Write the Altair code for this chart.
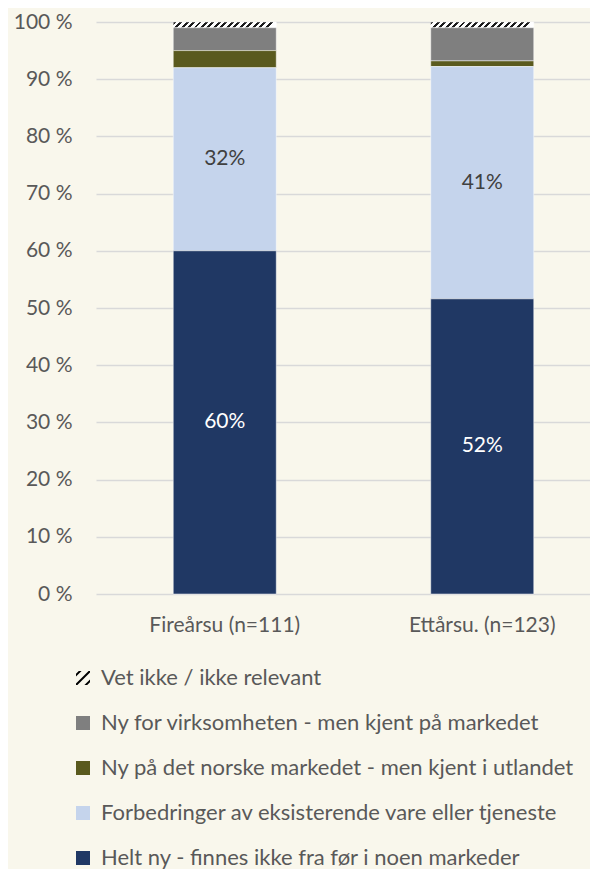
import altair as alt
import pandas as pd

# ---- data ----
categories = [
    "Vet ikke / ikke relevant",
    "Ny for virksomheten - men kjent på markedet",
    "Ny på det norske markedet - men kjent i utlandet",
    "Forbedringer av eksisterende vare eller tjeneste",
    "Helt ny - finnes ikke fra før i noen markeder",
]
colors = ["#000000", "#7F7F7F", "#5A5A1E", "#C5D4EC", "#203864"]
stack_order = [4, 3, 2, 1, 0]          # bottom (0) to top (4)
groups = ["Fireårsu (n=111)", "Ettårsu. (n=123)"]
fireaarsu = [1.0, 4.0, 3.0, 32.0, 60.0]
ettaarsu = [1.0, 5.8, 1.0, 40.6, 51.6]
labelled = [False, False, False, True, True]
y_ticks = list(range(0, 101, 10))

rows = []
for g, vals in zip(groups, [fireaarsu, ettaarsu]):
    for c, v, o, lab in zip(categories, vals, stack_order, labelled):
        rows.append({"group": g, "cat": c, "value": v, "order": o, "lab": lab})
df = pd.DataFrame(rows)

HATCH = categories[0]
NAVY = categories[4]
FONT = "Lato"
GREY_TXT = "#595959"


def stripe_gradient(n, frac, x2, y2):
    stops = []
    for i in range(n):
        a = i / n
        b = (i + frac) / n
        e = (i + 1) / n
        stops += [
            {"offset": a, "color": "#1a1a1a"},
            {"offset": b, "color": "#1a1a1a"},
            {"offset": b, "color": "#ffffff"},
            {"offset": e, "color": "#ffffff"},
        ]
    return {"gradient": "linear", "x1": 0, "y1": 0, "x2": x2, "y2": y2, "stops": stops}


hatch_fill = stripe_gradient(16, 0.45, 1, 0.0555)

square_path = "M-1,-1H1V1H-1Z"
hatch_path = ("M-1,-0.6L-0.6,-1L-0.2,-1L-1,-0.2Z "
              "M-1,0.8L0.8,-1L1,-1L1,-0.8L-0.8,1L-1,1Z "
              "M1,0.2L0.2,1L0.6,1L1,0.6Z")
shapes = [hatch_path] + [square_path] * 4

legend = alt.Legend(
    title=None, orient="none", legendX=-24, legendY=645, direction="vertical",
    symbolSize=196, symbolStrokeWidth=0, symbolOpacity=1,
    labelFont=FONT, labelFontSize=22, labelColor=GREY_TXT, labelOffset=7,
    labelLimit=700, rowPadding=23, padding=0,
)

x_enc = alt.X(
    "group:N", sort=groups,
    scale=alt.Scale(range=[0, 515], paddingInner=0.6, paddingOuter=0.3),
    axis=alt.Axis(title=None, labelAngle=0, domain=False, ticks=False,
                  labelPadding=20, labelFont=FONT, labelFontSize=21,
                  labelColor=GREY_TXT),
)
y_axis = alt.Axis(title=None, values=y_ticks, labelExpr="datum.value + ' %'",
                  domain=False, ticks=False, labelPadding=24, labelFont=FONT,
                  labelFontSize=21, labelColor=GREY_TXT, gridColor="#D9D9D9",
                  gridWidth=1.6)
y_scale = alt.Scale(domain=[0, 100], nice=False)

color_scale = alt.Scale(domain=categories, range=colors)

base = alt.Chart(df).transform_stack(
    stack="value", groupby=["group"],
    sort=[alt.SortField("order", order="ascending")], as_=["v0", "v1"]
).transform_calculate(
    mid="(datum.v0 + datum.v1) / 2",
    label="format(datum.value, '.0f') + '%'",
)

points = base.mark_point(filled=True, opacity=0).encode(
    x=x_enc,
    y=alt.Y("mid:Q", scale=y_scale, axis=y_axis),
    color=alt.Color("cat:N", scale=color_scale, legend=legend),
    shape=alt.Shape("cat:N", scale=alt.Scale(domain=categories, range=shapes), legend=legend),
)

bars = base.mark_bar(stroke="#FFFFFF", strokeWidth=0.8, strokeOpacity=0.6).encode(
    x=x_enc,
    y=alt.Y("v0:Q", scale=y_scale, axis=y_axis),
    y2="v1:Q",
    color=alt.condition(alt.datum.cat == HATCH, alt.value(hatch_fill),
                        alt.Color("cat:N", scale=color_scale, legend=legend)),
)

text = base.transform_filter(alt.datum.lab).mark_text(
    font=FONT, fontSize=21, baseline="middle", align="center"
).encode(
    x=x_enc,
    y=alt.Y("mid:Q", scale=y_scale, axis=y_axis),
    text=alt.Text("label:N"),
    color=alt.condition(alt.datum.cat == NAVY, alt.value("#FFFFFF"), alt.value("#404040")),
)

chart = alt.layer(points, bars, text).properties(
    width=494, height=572,
    autosize=alt.AutoSizeParams(type="none"),
    padding={"left": 88, "top": 14, "right": 0, "bottom": 275},
    background="#F9F7EC",
).configure_view(stroke=None)

chart.save("out.html", embed_options={"renderer": "svg", "actions": False})
